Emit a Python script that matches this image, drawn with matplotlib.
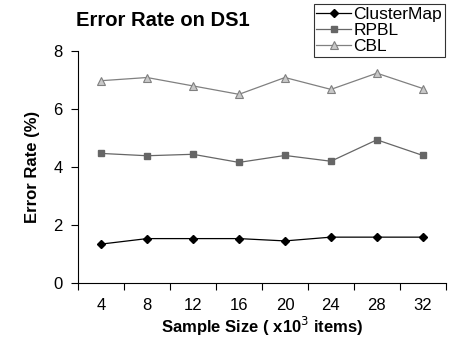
import numpy as np
import matplotlib
matplotlib.use("Agg")
import matplotlib.pyplot as plt

plt.rcParams['font.family'] = ['Liberation Sans', 'DejaVu Sans']

#data
sizes = ['4', '8', '12', '16', '20', '24', '28', '32']
clustermap = [1.34, 1.53, 1.53, 1.53, 1.45, 1.58, 1.58, 1.58]
rpbl = [4.47, 4.39, 4.44, 4.16, 4.40, 4.20, 4.94, 4.40]
cbl = [6.98, 7.09, 6.80, 6.51, 7.09, 6.68, 7.24, 6.71]

fig = plt.figure(figsize=(4.54, 3.48), dpi=100)
ax = fig.add_axes([0.172, 0.187, 0.81, 0.666])

x = np.arange(len(sizes))
ax.plot(x, clustermap, '-', color='black', lw=0.9, marker='D', ms=4.5,
        mfc='black', mec='black', label='ClusterMap')
ax.plot(x, rpbl, '-', color='#666666', lw=0.9, marker='s', ms=5,
        mfc='#666666', mec='#666666', label='RPBL')
ax.plot(x, cbl, '-', color='#808080', lw=0.9, marker='^', ms=6,
        mfc='#c8c8c8', mec='#808080', mew=0.8, label='CBL')

#category style axis: ticks between categories, labels at centers
ax.set_xlim(-0.5, len(sizes) - 0.5)
ax.set_xticks(np.arange(-0.5, len(sizes), 1.0))
ax.set_xticklabels([])
ax.set_xticks(x, minor=True)
ax.set_xticklabels(sizes, minor=True, fontsize=12)
ax.tick_params(axis='x', which='major', direction='out', length=5, width=0.8)
ax.tick_params(axis='x', which='minor', length=0, pad=11)

ax.set_ylim(0, 8)
ax.set_yticks([0, 2, 4, 6, 8])
ax.tick_params(axis='y', direction='out', length=5, width=0.8, labelsize=12, pad=6)

ax.spines['top'].set_visible(False)
ax.spines['right'].set_visible(False)

ax.set_xlabel('Sample Size ( x10$^3$ items)', fontsize=12, fontweight='bold', labelpad=1)
ax.set_ylabel('Error Rate (%)', fontsize=12, fontweight='bold', labelpad=10)
fig.text(0.358, 0.94, 'Error Rate on DS1', fontsize=14.5, fontweight='bold',
         ha='center', va='center')

leg = ax.legend(loc='upper right', bbox_to_anchor=(0.98, 0.988),
                bbox_transform=fig.transFigure, fontsize=12.5, frameon=True,
                fancybox=False, borderpad=0.15, labelspacing=0.05,
                handlelength=2.0, handletextpad=0.15, borderaxespad=0)
leg.get_frame().set_edgecolor('black')
leg.get_frame().set_linewidth(0.8)

fig.savefig('out.png', dpi=100)
